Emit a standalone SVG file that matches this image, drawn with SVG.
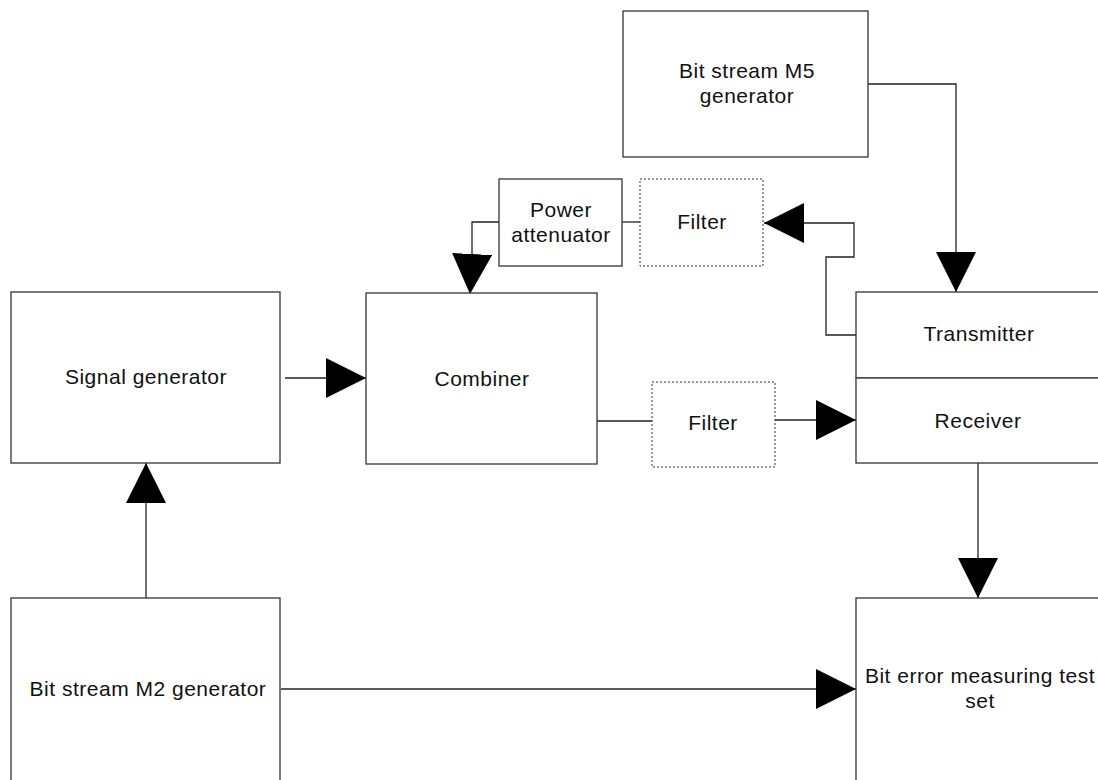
<svg xmlns="http://www.w3.org/2000/svg" width="1098" height="780" viewBox="0 0 1098 780">
<style>
.box{fill:#fff;stroke:#333;stroke-width:1.3}
.dash{fill:#fff;stroke:#333;stroke-width:1;stroke-dasharray:2,2}
.lbl{font-family:"Liberation Sans",Arial,sans-serif;font-size:21px;letter-spacing:0.5px;fill:#111;text-anchor:middle}
.con{fill:none;stroke:#222;stroke-width:1.3}
</style>
<defs>
<marker id="ah" viewBox="0 0 40 40" refX="40" refY="20" markerWidth="40" markerHeight="40" markerUnits="userSpaceOnUse" orient="auto">
<path d="M0,0 L40,20 L0,40 z" fill="#000"/>
</marker>
</defs>
<rect width="1098" height="780" fill="#fff"/>
<g id="connectors">
<path class="con" d="M285,378 H366" marker-end="url(#ah)"/>
<path class="con" d="M597,421 H652"/>
<path class="con" d="M775,420 H856" marker-end="url(#ah)"/>
<path class="con" d="M978,463 V598" marker-end="url(#ah)"/>
<path class="con" d="M281,689 H856" marker-end="url(#ah)"/>
<path class="con" d="M146,598 V463" marker-end="url(#ah)"/>
<path class="con" d="M868,84 H956 V292" marker-end="url(#ah)"/>
<path class="con" d="M856,335 H826 V257 H854 V223 H764" marker-end="url(#ah)"/>
<path class="con" d="M622,222 H640"/>
<path class="con" d="M499,222 H472 V256 L470,294" marker-end="url(#ah)"/>
</g>
<g id="signal-generator">
<rect class="box" x="11" y="292" width="269" height="171"/>
<text class="lbl" x="146" y="384">Signal generator</text>
</g>
<g id="combiner">
<rect class="box" x="366" y="293" width="231" height="171"/>
<text class="lbl" x="482" y="386">Combiner</text>
</g>
<g id="filter-lower">
<rect class="dash" x="652" y="382" width="123" height="85"/>
<text class="lbl" x="713" y="430">Filter</text>
</g>
<g id="transmitter">
<rect class="box" x="856" y="292" width="260" height="86"/>
<text class="lbl" x="979" y="341">Transmitter</text>
</g>
<g id="receiver">
<rect class="box" x="856" y="378" width="260" height="85"/>
<text class="lbl" x="978" y="428">Receiver</text>
</g>
<g id="bit-error">
<rect class="box" x="856" y="598" width="260" height="200"/>
<text class="lbl" x="980" y="683">Bit error measuring test</text>
<text class="lbl" x="980" y="708">set</text>
</g>
<g id="m2-generator">
<rect class="box" x="11" y="598" width="269" height="200"/>
<text class="lbl" x="148" y="696">Bit stream M2 generator</text>
</g>
<g id="m5-generator">
<rect class="box" x="623" y="11" width="245" height="146"/>
<text class="lbl" x="747" y="78">Bit stream M5</text>
<text class="lbl" x="747" y="103">generator</text>
</g>
<g id="filter-upper">
<rect class="dash" x="640" y="179" width="123" height="87"/>
<text class="lbl" x="702" y="229">Filter</text>
</g>
<g id="power-attenuator">
<rect class="box" x="499" y="179" width="123" height="87"/>
<text class="lbl" x="561" y="217">Power</text>
<text class="lbl" x="561" y="242">attenuator</text>
</g>
</svg>
